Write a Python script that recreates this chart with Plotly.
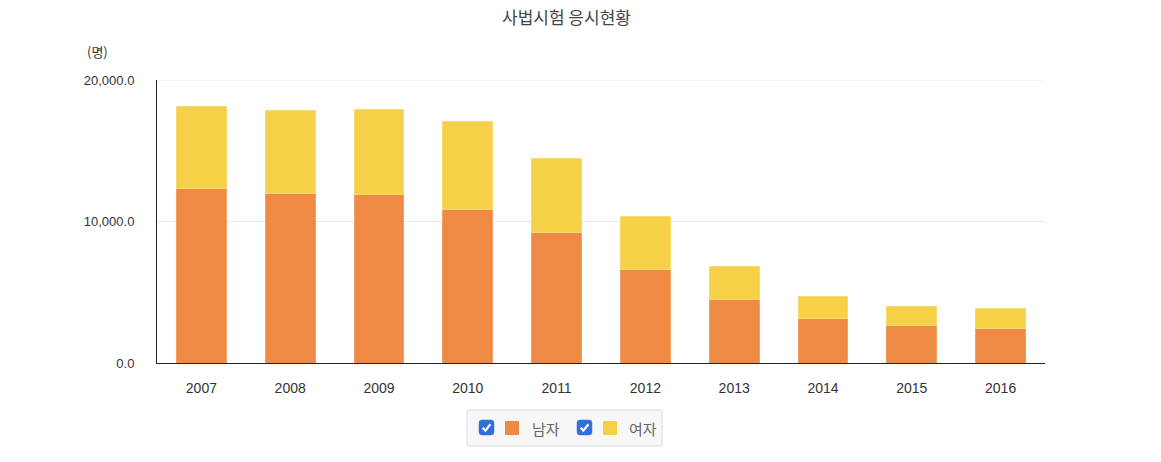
import plotly.graph_objects as go

years = ["2007", "2008", "2009", "2010", "2011", "2012", "2013", "2014", "2015", "2016"]
male = [12300, 12010, 11940, 10880, 9190, 6640, 4520, 3110, 2620, 2470]
female = [5860, 5870, 6010, 6220, 5230, 3680, 2330, 1620, 1340, 1350]
series_names = ["남자", "여자"]
colors = ["#EE8A44", "#F6D148"]
border_colors = ["#F2A06A", "#F8DA70"]

W, H = 1161, 462
L, R, T, B = 157, 1045, 80, 363

def px(x):
    return (x - L) / (R - L)

def py(y):
    return (B - y) / (B - T)

fig = go.Figure()
for name, vals, c, bc in zip(series_names, [male, female], colors, border_colors):
    fig.add_trace(go.Bar(x=years, y=vals, name=name, marker=dict(color=c, line=dict(color=bc, width=1))))

fig.update_layout(
    width=W, height=H,
    margin=dict(l=L, r=W - R, t=T, b=H - B),
    barmode="stack", bargap=0.44,
    plot_bgcolor="white", paper_bgcolor="white",
    showlegend=False,
    font=dict(family="Arial, Liberation Sans, Noto Sans CJK KR", size=12, color="#333"),
)
fig.update_yaxes(range=[0, 20000], tickvals=[0, 10000, 20000], tickformat=",.1f",
                 showgrid=True, gridcolor="#e8e8e8", gridwidth=1,
                 showline=True, linecolor="#222", linewidth=1, ticks="",
                 ticklabelstandoff=19, zeroline=False, tickfont=dict(size=13))
fig.update_xaxes(showline=True, linecolor="#222", linewidth=1, ticks="",
                 ticklabelstandoff=12, showgrid=False, tickfont=dict(size=14))

ann = []
ann.append(dict(text="사법시험 응시현황", x=px(566), y=py(17), xref="paper", yref="paper",
                showarrow=False, xanchor="center", yanchor="middle",
                font=dict(family="Noto Sans CJK KR", size=17, color="#444")))
ann.append(dict(text="(명)", x=px(97), y=py(52), xref="paper", yref="paper",
                showarrow=False, xanchor="center", yanchor="middle",
                font=dict(family="Noto Sans CJK KR", size=13, color="#333")))

shapes = []
# top gridline at the range edge
shapes.append(dict(type="line", xref="paper", yref="y", x0=0, x1=1, y0=20000, y1=20000,
                   line=dict(color="#e8e8e8", width=1), layer="below"))
# legend box
shapes.append(dict(type="rect", xref="paper", yref="paper", x0=px(467), x1=px(662), y0=py(446), y1=py(410),
                   fillcolor="#f7f7f7", line=dict(color="#dcdcdc", width=1), layer="above"))

def rounded(x0, y0, x1, y1, r=3):
    X = lambda v: f"{px(v):.6f}"
    Y = lambda v: f"{py(v):.6f}"
    return (f"M{X(x0+r)},{Y(y0)} L{X(x1-r)},{Y(y0)} Q{X(x1)},{Y(y0)} {X(x1)},{Y(y0+r)} "
            f"L{X(x1)},{Y(y1-r)} Q{X(x1)},{Y(y1)} {X(x1-r)},{Y(y1)} "
            f"L{X(x0+r)},{Y(y1)} Q{X(x0)},{Y(y1)} {X(x0)},{Y(y1-r)} "
            f"L{X(x0)},{Y(y0+r)} Q{X(x0)},{Y(y0)} {X(x0+r)},{Y(y0)} Z")

legend_items = [(479, 505, 530, series_names[0], colors[0]), (577, 603, 627, series_names[1], colors[1])]
for cbx, sqx, tx, name, c in legend_items:
    shapes.append(dict(type="path", xref="paper", yref="paper", path=rounded(cbx, 420, cbx + 15, 435),
                       fillcolor="#2f6fe0", line=dict(color="#2f6fe0", width=0.5), layer="above"))
    # check mark
    cm = (f"M{px(cbx+3.6):.6f},{py(427.8):.6f} L{px(cbx+6.4):.6f},{py(430.6):.6f} "
          f"L{px(cbx+11.4):.6f},{py(424.2):.6f}")
    shapes.append(dict(type="path", xref="paper", yref="paper", path=cm,
                       line=dict(color="white", width=2.2), layer="above"))
    shapes.append(dict(type="rect", xref="paper", yref="paper", x0=px(sqx), x1=px(sqx + 14),
                       y0=py(435), y1=py(421), fillcolor=c, line=dict(width=0), layer="above"))
    ann.append(dict(text=name, x=px(tx), y=py(428), xref="paper", yref="paper",
                    showarrow=False, xanchor="left", yanchor="middle",
                    font=dict(family="Noto Sans CJK KR", size=15, color="#666")))

fig.update_layout(annotations=ann, shapes=shapes)
fig.write_html("out.html")
